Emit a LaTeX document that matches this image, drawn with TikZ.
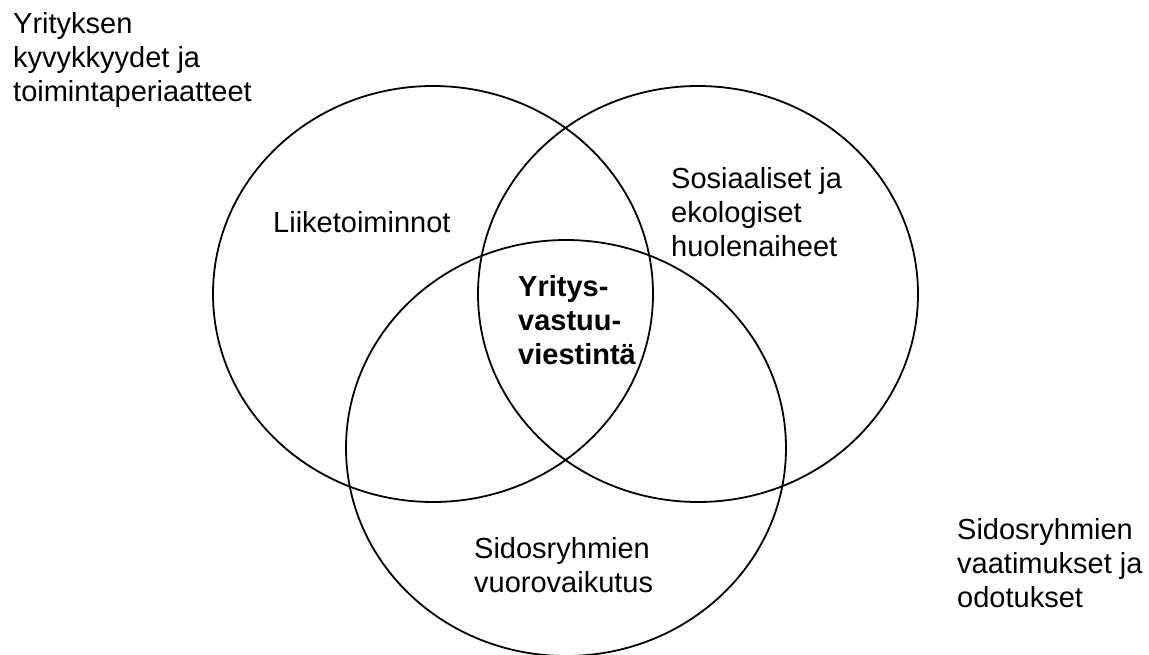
\documentclass[tikz,border=0pt]{standalone}
\usepackage{fontspec}
\setmainfont{Liberation Sans}
\usetikzlibrary{shapes.geometric}
\begin{document}
\begin{tikzpicture}[x=1pt,y=-1pt,
  venn/.style={draw=black, line width=1.8pt, ellipse, minimum width=440pt, minimum height=416pt, inner sep=0pt},
  lbl/.style={anchor=north west, inner sep=0pt, align=left, font=\fontsize{29}{34}\selectfont},
  blbl/.style={lbl, font=\fontsize{29}{34}\selectfont\bfseries}]
\useasboundingbox (0,0) rectangle (1149,655);
\fill[white] (0,0) rectangle (1149,655);
\node[venn] (left) at (433,294) {};
\node[venn] (right) at (698,294) {};
\node[venn] (bottom) at (566,448) {};
\node[lbl] (yrityksen) at (13,12) {Yrityksen\\kyvykkyydet ja\\toimintaperiaatteet};
\node[lbl] (liike) at (273,211) {Liiketoiminnot};
\node[lbl] (sosiaaliset) at (671,167) {Sosiaaliset ja\\ekologiset\\huolenaiheet};
\node[blbl] (core) at (518,275) {Yritys-\\vastuu-\\viestintä};
\node[lbl] (vuoro) at (474,537) {Sidosryhmien\\vuorovaikutus};
\node[lbl] (vaatimukset) at (957,518) {Sidosryhmien\\vaatimukset ja\\odotukset};
\end{tikzpicture}
\end{document}
